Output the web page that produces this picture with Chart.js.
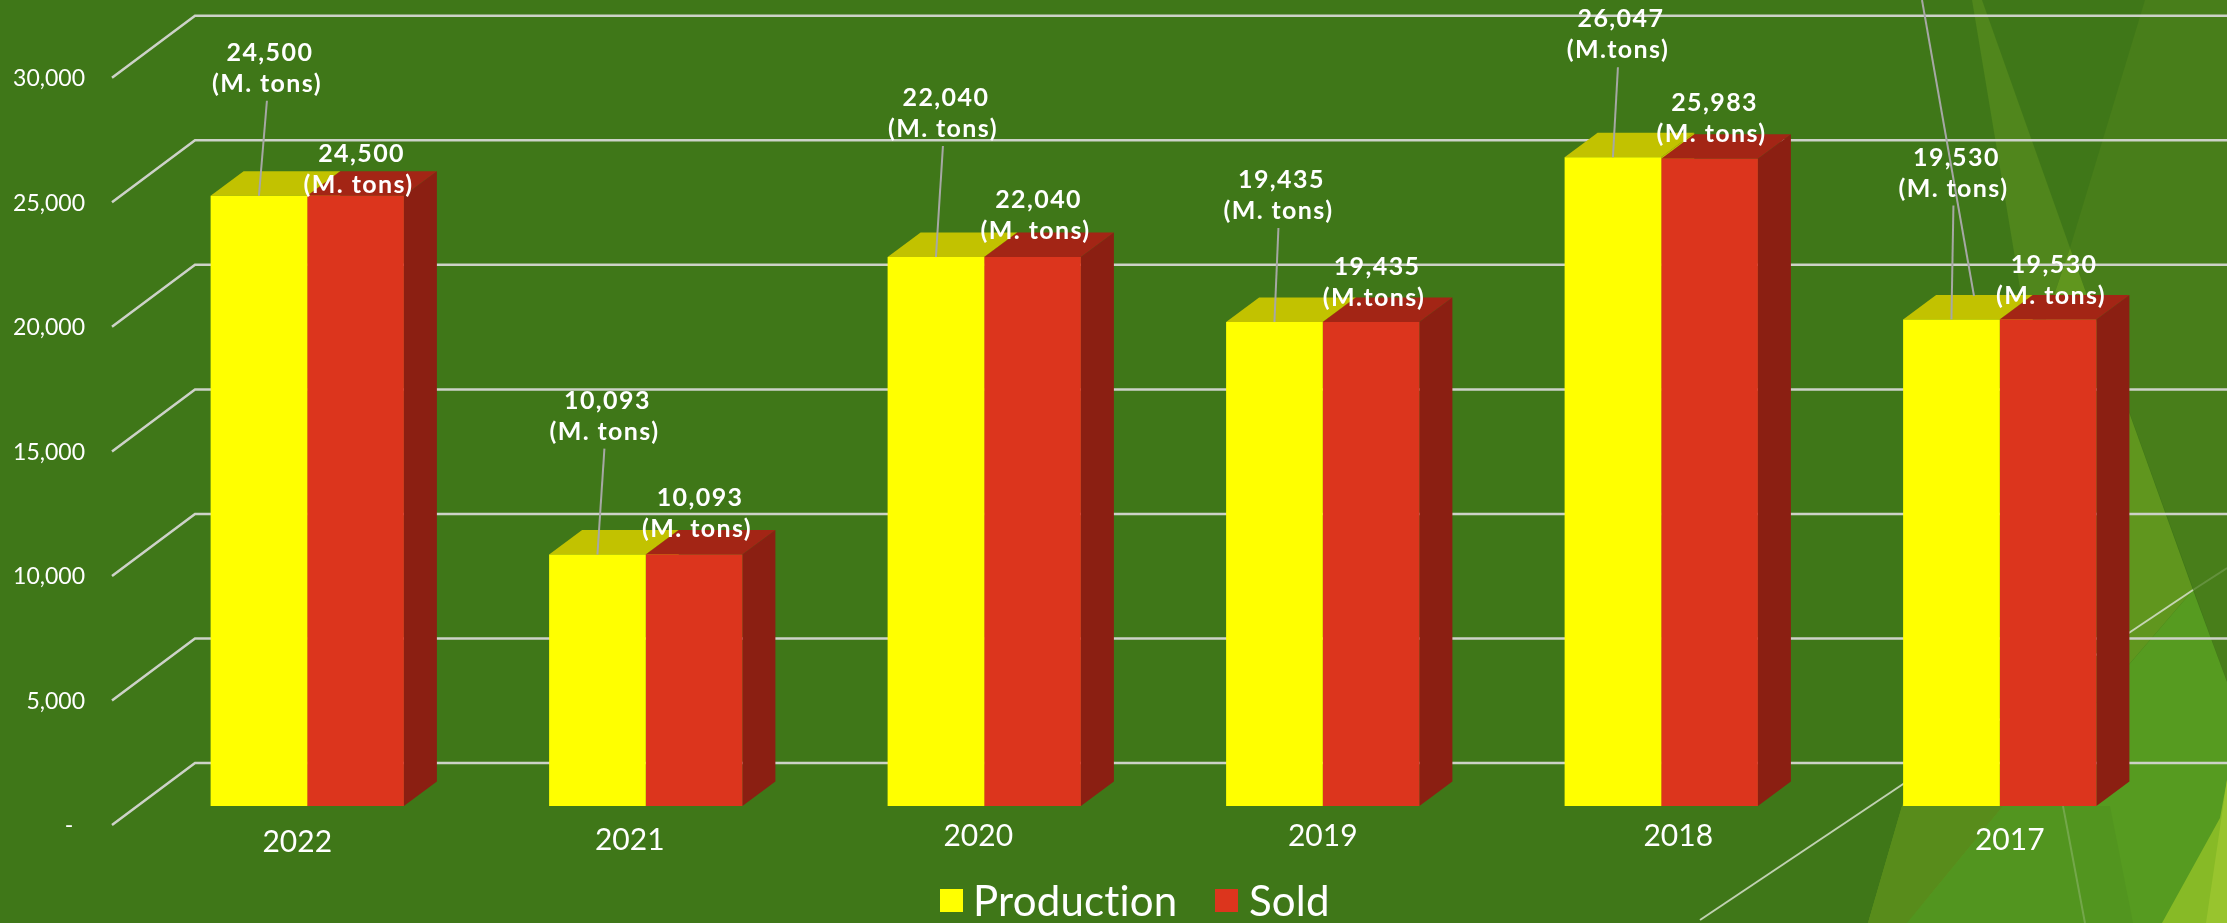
<!DOCTYPE html>
<html>
<head>
<meta charset="utf-8">
<title>Production and Sold</title>
<script src="https://cdn.jsdelivr.net/npm/chart.js@4"></script>
<style>
    html, body { margin: 0; padding: 0; background: #3f7718; }
    canvas { display: block; }
</style>
</head>
<body>
<canvas id="canvaProduccion" width="2227" height="923"></canvas>
<script>
const anios = ["2022", "2021", "2020", "2019", "2018", "2017"];
const produccion = [24500, 10093, 22040, 19435, 26047, 19530];
const vendido = [24500, 10093, 22040, 19435, 25983, 19530];
const unidadProduccion = ["(M. tons)", "(M. tons)", "(M. tons)", "(M. tons)", "(M.tons)", "(M. tons)"];
const unidadVendido = ["(M. tons)", "(M. tons)", "(M. tons)", "(M.tons)", "(M. tons)", "(M. tons)"];
const nombresSeries = ["Production", "Sold"];

// estilos
const AMARILLO = "#ffff00", AMARILLO_TOPE = "#c2c200";
const ROJO = "#dc351d", ROJO_TOPE = "#a32515", ROJO_LADO = "#8b1f12";
const REJILLA = "#cdd2c8", GUIA = "#a6a8a4";

// desplazamientos a mano, el grafico original tiene las etiquetas movidas una por una
const ajusteAnios = [[-10, 3], [-16, 1], [-6, -3], [0, -3], [17, -3], [10, 1]];
const ajusteProduccion = [[8, -143], [7, -154], [7, -159], [4, -142], [5, -138], [2, -162]];
const ajusteVendido = [[3, -42], [3, -57], [3, -57], [3, -55], [2, -56], [3, -55]];

// fondo decorativo de la plantilla
const facetas = [
    { color: "#487e1a", puntos: [[2145, 0], [2227, 0], [2227, 682], [2070, 248]] },
    { color: "#50861c", puntos: [[1972, 0], [1982, 0], [2070, 248], [2032, 360]] },
    { color: "#60961e", puntos: [[2070, 248], [2193, 590], [1907, 923], [1868, 923], [2032, 360]] },
    { color: "#588c1b", puntos: [[1902, 806], [2003, 806], [1907, 923], [1868, 923]] },
    { color: "#569b20", puntos: [[2193, 590], [2227, 682], [2227, 923], [1907, 923]] },
    { color: "#52951f", puntos: [[2003, 806], [2110, 806], [2133, 923], [1907, 923]] },
    { color: "#87ba26", puntos: [[2227, 780], [2227, 923], [2162, 923], [2220, 818]] },
    { color: "#98c42e", puntos: [[2227, 780], [2227, 923], [2206, 923]] }
];

function linea(ctx, x1, y1, x2, y2) {
    ctx.beginPath();
    ctx.moveTo(x1, y1);
    ctx.lineTo(x2, y2);
    ctx.stroke();
}

function poligono(ctx, puntos, color) {
    ctx.fillStyle = color;
    ctx.beginPath();
    puntos.forEach((p, i) => i ? ctx.lineTo(p[0], p[1]) : ctx.moveTo(p[0], p[1]));
    ctx.closePath();
    ctx.fill();
}

const plugin3D = {
    id: "plugin3D",
    beforeDraw(chart) {
        const ctx = chart.ctx;
        ctx.save();
        ctx.fillStyle = "#3f7718";
        ctx.fillRect(0, 0, chart.width, chart.height);
        facetas.forEach(f => poligono(ctx, f.puntos, f.color));
        ctx.strokeStyle = "rgba(215,225,205,0.85)";
        ctx.lineWidth = 2;
        linea(ctx, 1700, 920, 2193, 590);
        ctx.strokeStyle = "rgba(215,225,205,0.2)";
        linea(ctx, 2193, 590, 2227, 568);
        ctx.strokeStyle = "rgba(215,225,205,0.25)";
        linea(ctx, 2063, 806, 2085, 923);
        ctx.restore();

        // los anios con su ajuste
        const ejeX = chart.scales.x;
        ejeX.getLabelItems().forEach((item, i) => {
            item.options.translation[0] = ejeX.getPixelForTick(i) + ajusteAnios[i][0];
            item.options.translation[1] = 821 + ajusteAnios[i][1];
        });
    },
    beforeDatasetsDraw(chart) {
        const ctx = chart.ctx;
        const ejeY = chart.scales.y;
        ctx.save();

        // rejilla con su pared lateral
        ctx.strokeStyle = REJILLA;
        ctx.lineWidth = 2.5;
        ejeY.ticks.forEach(t => {
            const y = ejeY.getPixelForValue(t.value);
            ctx.beginPath();
            ctx.moveTo(112, y + 19);
            ctx.lineTo(195, y - 43);
            ctx.lineTo(chart.width, y - 43);
            ctx.stroke();
        });

        // caras superior y lateral de cada barra
        const fondoX = 33, fondoY = 24.5;
        const colores = [[AMARILLO_TOPE, AMARILLO_TOPE], [ROJO_TOPE, ROJO_LADO]];
        chart.data.datasets.forEach((ds, d) => {
            chart.getDatasetMeta(d).data.forEach(barra => {
                const w = barra.width / 2;
                const izq = barra.x - w, der = barra.x + w;
                poligono(ctx, [[izq, barra.y], [der, barra.y], [der + fondoX, barra.y - fondoY], [izq + fondoX, barra.y - fondoY]], colores[d][0]);
                poligono(ctx, [[der, barra.y], [der + fondoX, barra.y - fondoY], [der + fondoX, barra.base - fondoY], [der, barra.base]], colores[d][1]);
            });
        });
        ctx.restore();
    },
    afterDraw(chart) {
        const ctx = chart.ctx;
        ctx.save();

        // guia que baja desde fuera del grafico
        ctx.strokeStyle = GUIA;
        ctx.lineWidth = 2;
        linea(ctx, 1922, 0, 1974, 296);

        ctx.textAlign = "center";
        ctx.textBaseline = "middle";
        ctx.fillStyle = "#ffffff";
        ctx.font = "bold 25px Lato";
        ctx.letterSpacing = "1.4px";

        // etiquetas de produccion con su guia
        chart.getDatasetMeta(0).data.forEach((barra, i) => {
            const x = barra.x + ajusteProduccion[i][0];
            const y = barra.y + ajusteProduccion[i][1];
            ctx.fillText(produccion[i].toLocaleString("en-US"), x + 3, y);
            ctx.fillText(unidadProduccion[i], x, y + 31);
            linea(ctx, x, y + 48, barra.x, barra.y);
        });
        chart.getDatasetMeta(1).data.forEach((barra, i) => {
            const x = barra.x + ajusteVendido[i][0];
            const y = barra.y + ajusteVendido[i][1];
            ctx.fillText(vendido[i].toLocaleString("en-US"), x + 3, y);
            ctx.fillText(unidadVendido[i], x, y + 31);
        });

        // leyenda
        ctx.letterSpacing = "0.2px";
        ctx.textAlign = "left";
        ctx.textBaseline = "alphabetic";
        ctx.font = "42px Lato";
        [[940, 973, AMARILLO], [1215, 1249, ROJO]].forEach((l, i) => {
            ctx.fillStyle = l[2];
            ctx.fillRect(l[0], 889, 23, 23);
            ctx.fillStyle = "#ffffff";
            ctx.fillText(nombresSeries[i], l[1], 916);
        });
        ctx.restore();
    }
};

new Chart(document.getElementById("canvaProduccion"), {
    type: "bar",
    data: {
        labels: anios,
        datasets: [{
            label: nombresSeries[0],
            data: produccion,
            backgroundColor: AMARILLO,
            categoryPercentage: 0.571,
            barPercentage: 1
        }, {
            label: nombresSeries[1],
            data: vendido,
            backgroundColor: ROJO,
            categoryPercentage: 0.571,
            barPercentage: 1
        }]
    },
    options: {
        responsive: false,
        animation: false,
        layout: { padding: { top: 52, right: 58 } },
        plugins: {
            legend: { display: false },
            tooltip: { enabled: false }
        },
        scales: {
            x: {
                grid: { display: false },
                border: { display: false },
                afterFit(eje) { eje.height = 117; },
                ticks: {
                    color: "#ffffff",
                    font: { family: "Lato", size: 30 },
                    maxRotation: 0
                }
            },
            y: {
                min: 0,
                max: 30000,
                grid: { display: false },
                border: { display: false },
                afterFit(eje) { eje.width = 138; },
                ticks: {
                    stepSize: 5000,
                    padding: 45,
                    labelOffset: 20,
                    color: "#ffffff",
                    font: { family: "Lato", size: 23 },
                    callback: v => v === 0 ? "-  " : v.toLocaleString("en-US")
                }
            }
        }
    },
    plugins: [plugin3D]
});
</script>
</body>
</html>
